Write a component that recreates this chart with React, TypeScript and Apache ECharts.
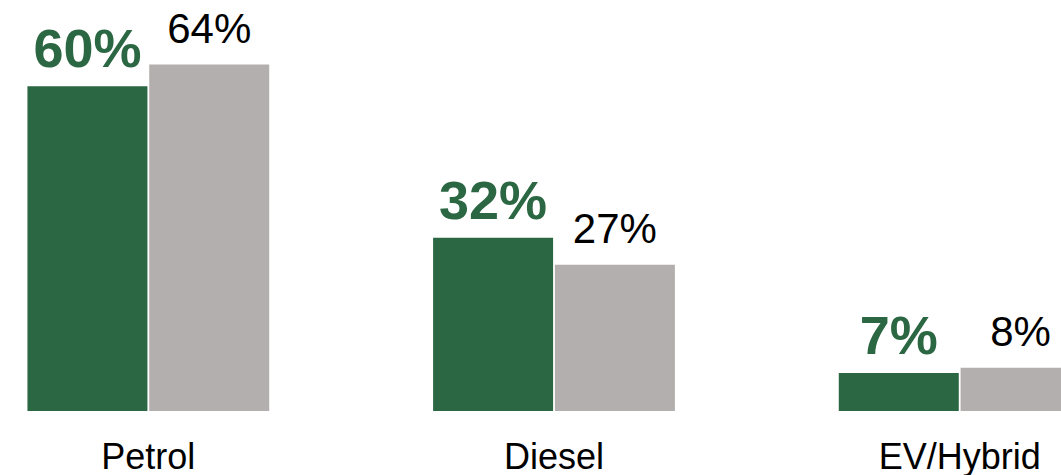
import React, { useEffect, useRef } from "react";
import * as echarts from "echarts";

const categories = ["Petrol", "Diesel", "EV/Hybrid"];
const seriesGreen = [60, 32, 7];
const seriesGray = [64, 27, 8];

const GREEN = "#2b6743";
const GRAY = "#b3afae";
const FONT = "'Liberation Sans', Arial, Helvetica, sans-serif";

export default function App() {
  const ref = useRef<HTMLDivElement>(null);
  useEffect(() => {
    if (!ref.current) return;
    const chart = echarts.init(ref.current, undefined, { renderer: "svg" });
    chart.setOption({
      animation: false,
      backgroundColor: "#ffffff",
      grid: {
        left: -54.5,
        width: 1217,
        top: 32,
        bottom: 64,
        containLabel: false,
        outerBoundsMode: "none",
      },
      xAxis: {
        type: "category",
        data: categories,
        axisLine: { show: false },
        axisTick: { show: false },
        axisLabel: {
          color: "#000",
          fontSize: 36,
          lineHeight: 32,
          fontFamily: FONT,
          margin: 29,
        },
      },
      yAxis: {
        type: "value",
        min: 0,
        max: 70,
        show: false,
        splitLine: { show: false },
      },
      series: [
        {
          type: "bar",
          data: seriesGreen,
          barWidth: 120,
          barGap: "1.5%",
          itemStyle: { color: GREEN },
          label: {
            show: true,
            position: "top",
            distance: 11,
            formatter: "{c}%",
            color: GREEN,
            fontWeight: "bold",
            fontSize: 54,
            fontFamily: FONT,
          },
        },
        {
          type: "bar",
          data: seriesGray,
          barWidth: 120,
          barGap: "1.5%",
          itemStyle: { color: GRAY },
          label: {
            show: true,
            position: "top",
            distance: 15,
            formatter: "{c}%",
            color: "#000",
            fontSize: 42,
            fontFamily: FONT,
          },
        },
      ],
    });
    return () => chart.dispose();
  }, []);
  return (
    <div
      ref={ref}
      style={{ position: "fixed", left: 0, top: 0, width: 1061, height: 475 }}
    />
  );
}
